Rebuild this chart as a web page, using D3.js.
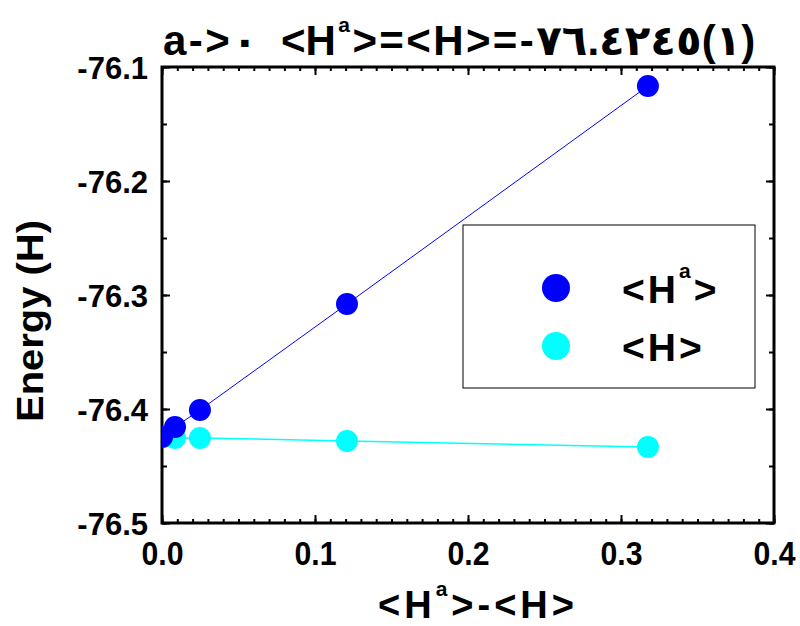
<!DOCTYPE html>
<html>
<head>
<meta charset="utf-8">
<script src="https://cdn.jsdelivr.net/npm/d3@7"></script>
<style>
  html, body { margin: 0; padding: 0; background: #fff; }
  svg { display: block; }
  text { font-family: "Liberation Sans", Arial, "DejaVu Sans", sans-serif; font-weight: bold; fill: #000; }
</style>
</head>
<body>
<svg id="chart" width="800" height="626"></svg>
<script>
// Energy extrapolation data: <H^a>-<H> against the two energy estimates
const xValues = [0, 0.0085, 0.0248, 0.1209, 0.3176];
const haValues = [-76.4245, -76.4158, -76.4009, -76.3079, -76.1167];
const hValues = [-76.4245, -76.4254, -76.4254, -76.4280, -76.4333];
const xTicks = [0, 0.1, 0.2, 0.3, 0.4];
const yTicks = [-76.5, -76.4, -76.3, -76.2, -76.1];
const seriesNames = ["<H^a>", "<H>"];
const seriesColors = ["#0000ff", "#00ffff"];

const svg = d3.select("#chart");
const plotLeft = 162, plotRight = 774, plotTop = 67, plotBottom = 523;

const x = d3.scaleLinear().domain([0, 0.4]).range([plotLeft, plotRight]);
const y = d3.scaleLinear().domain([-76.5, -76.1]).range([plotBottom, plotTop]);
const fmt = v => d3.format(".1f")(v).replace("\u2212", "-");

svg.append("defs").append("clipPath").attr("id", "plotClip")
  .append("rect").attr("x", plotLeft).attr("y", plotTop)
  .attr("width", plotRight - plotLeft).attr("height", plotBottom - plotTop);

const xMinor = d3.range(0, 41).map(i => i / 100);
const yMinor = d3.range(0, 9).map(i => -76.5 + i * 0.05);

function styleAxis(g) {
  g.select(".domain").remove();
  g.selectAll(".tick line").attr("stroke", "#000").attr("stroke-width", 2);
}

// minor ticks, all four sides, pointing inward
svg.append("g").attr("transform", `translate(0,${plotBottom})`)
  .call(d3.axisBottom(x).tickValues(xMinor).tickSize(-4).tickFormat(""))
  .call(styleAxis);
svg.append("g").attr("transform", `translate(0,${plotTop})`)
  .call(d3.axisTop(x).tickValues(xMinor).tickSize(-4).tickFormat(""))
  .call(styleAxis);
svg.append("g").attr("transform", `translate(${plotLeft},0)`)
  .call(d3.axisLeft(y).tickValues(yMinor).tickSize(-5).tickFormat(""))
  .call(styleAxis);
svg.append("g").attr("transform", `translate(${plotRight},0)`)
  .call(d3.axisRight(y).tickValues(yMinor).tickSize(-5).tickFormat(""))
  .call(styleAxis);

// major ticks with labels
const xAxis = svg.append("g").attr("transform", `translate(0,${plotBottom})`)
  .call(d3.axisBottom(x).tickValues(xTicks).tickSize(-8).tickPadding(19).tickFormat(fmt))
  .call(styleAxis);
xAxis.selectAll("text").style("font-size", "33px")
  .attr("textLength", 42).attr("lengthAdjust", "spacingAndGlyphs");

svg.append("g").attr("transform", `translate(0,${plotTop})`)
  .call(d3.axisTop(x).tickValues(xTicks).tickSize(-8).tickFormat(""))
  .call(styleAxis);

const yAxis = svg.append("g").attr("transform", `translate(${plotLeft},0)`)
  .call(d3.axisLeft(y).tickValues(yTicks).tickSize(-8).tickPadding(14).tickFormat(fmt))
  .call(styleAxis);
yAxis.selectAll("text").style("font-size", "31px").attr("dy", "0.36em");

svg.append("g").attr("transform", `translate(${plotRight},0)`)
  .call(d3.axisRight(y).tickValues(yTicks).tickSize(-8).tickFormat(""))
  .call(styleAxis);

// frame
svg.append("rect").attr("x", plotLeft).attr("y", plotTop)
  .attr("width", plotRight - plotLeft).attr("height", plotBottom - plotTop)
  .attr("fill", "none").attr("stroke", "#000").attr("stroke-width", 3);

// series: <H> first, <H^a> on top
const plot = svg.append("g").attr("clip-path", "url(#plotClip)");
const series = [
  { values: hValues, color: seriesColors[1], width: 1.5 },
  { values: haValues, color: seriesColors[0], width: 1 }
];
const line = d3.line().x(d => x(d[0])).y(d => y(d[1]));
series.forEach(s => {
  const pts = xValues.map((v, i) => [v, s.values[i]]);
  plot.append("path").datum(pts).attr("d", line)
    .attr("fill", "none").attr("stroke", s.color).attr("stroke-width", s.width);
  plot.selectAll(null).data(pts).enter().append("circle")
    .attr("cx", d => x(d[0])).attr("cy", d => y(d[1])).attr("r", 11)
    .attr("fill", s.color);
});

// legend
svg.append("rect").attr("x", 463).attr("y", 225).attr("width", 292).attr("height", 163)
  .attr("fill", "#fff").attr("stroke", "#000").attr("stroke-width", 1);
const legendRows = [
  { name: seriesNames[0], color: seriesColors[0], cy: 288 },
  { name: seriesNames[1], color: seriesColors[1], cy: 346 }
];
legendRows.forEach(r => {
  svg.append("circle").attr("cx", 556).attr("cy", r.cy).attr("r", 14).attr("fill", r.color);
  const t = svg.append("text").attr("x", 622).attr("y", r.cy + 15)
    .style("font-size", "39px").style("letter-spacing", "3px");
  if (r.name === "<H^a>") {
    t.append("tspan").text("<H");
    t.append("tspan").attr("dy", -25).style("font-size", "21px").text("a");
    t.append("tspan").attr("dy", 25).text(">");
  } else {
    t.text(r.name);
  }
});

// title
const title = svg.append("text").attr("x", 163).attr("y", 55)
  .style("font-size", "42px").style("letter-spacing", "2.4px")
  .style("white-space", "pre")
  .style("direction", "ltr").style("unicode-bidi", "bidi-override");
title.append("tspan").text("a->\u0660  <H");
title.append("tspan").attr("dy", -23).style("font-size", "21px").text("a");
title.append("tspan").attr("dy", 23).text(">=<H>=-\u0667\u0666.\u0664\u0662\u0664\u0665(\u0661)");

// axis titles
const xt = svg.append("text").attr("x", 378).attr("y", 618)
  .style("font-size", "38px").style("letter-spacing", "4px");
xt.append("tspan").text("<H");
xt.append("tspan").attr("dy", -22).style("font-size", "21px").text("a");
xt.append("tspan").attr("dy", 22).text(">-<H>");

svg.append("text")
  .attr("transform", "translate(43,321) rotate(-90)")
  .attr("text-anchor", "middle")
  .style("font-size", "37px")
  .attr("textLength", 202).attr("lengthAdjust", "spacingAndGlyphs")
  .text("Energy (H)");
</script>
</body>
</html>
